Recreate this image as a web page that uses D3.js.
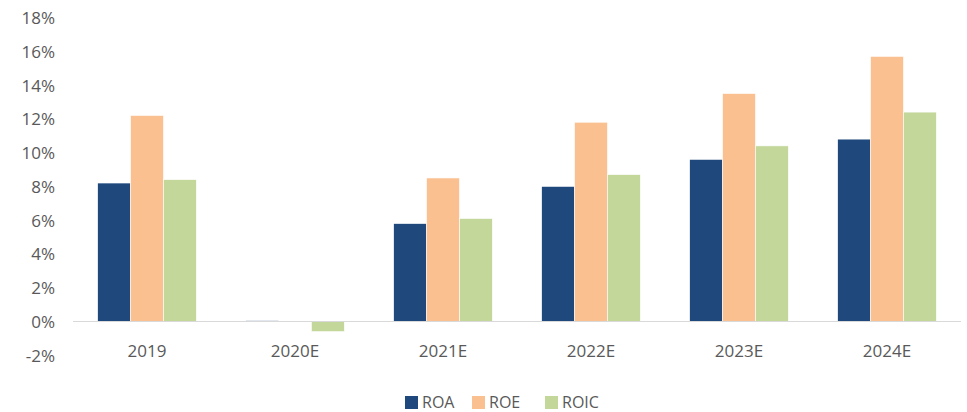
<!DOCTYPE html>
<html>
<head>
<meta charset="utf-8">
<script src="https://cdn.jsdelivr.net/npm/d3@7/dist/d3.min.js"></script>
<style>
  body { margin: 0; background: #fff; }
  svg text { font-family: "Open Sans", "Liberation Sans", sans-serif; fill: #595959; }
</style>
</head>
<body>
<svg id="chart" width="967" height="412"></svg>
<script>
// Return ratios by year (%)
const categories = ["2019", "2020E", "2021E", "2022E", "2023E", "2024E"];
const seriesNames = ["ROA", "ROE", "ROIC"];
const roa  = [8.2, 0.05, 5.8, 8.0, 9.6, 10.8];
const roe  = [12.2, 0.02, 8.5, 11.8, 13.5, 15.7];
const roic = [8.4, -0.6, 6.1, 8.7, 10.4, 12.4];
const colors = ["#1F497D", "#FAC090", "#C4D79B"];
const yTicks = [-2, 0, 2, 4, 6, 8, 10, 12, 14, 16, 18];

const seriesValues = [roa, roe, roic];
const svg = d3.select("#chart");

const plot = { left: 73, right: 961, top: 17.5, bottom: 355.3 };

const x0 = d3.scaleBand().domain(categories).range([plot.left, plot.right]).paddingInner(0).paddingOuter(0);
const x1 = d3.scaleBand().domain(seriesNames).range([0, x0.bandwidth()]).paddingInner(0).paddingOuter(0.75);
const y = d3.scaleLinear().domain([-2, 18]).range([plot.bottom, plot.top]);

// y-axis labels
const yAxis = d3.axisLeft(y).tickValues(yTicks).tickFormat(d => d + "%").tickSize(0).tickPadding(0);
const yg = svg.append("g").attr("transform", "translate(55,0)").call(yAxis);
yg.select(".domain").remove();
yg.selectAll("text").style("font-size", "17px").attr("dy", "0.35em");

// bars
const groups = svg.append("g").selectAll("g")
  .data(categories)
  .join("g")
  .attr("transform", d => `translate(${x0(d)},0)`);

groups.selectAll("rect")
  .data((c, i) => seriesNames.map((s, k) => ({ s, k, v: seriesValues[k][i] })))
  .join("rect")
  .attr("x", d => x1(d.s))
  .attr("width", x1.bandwidth())
  .attr("y", d => y(Math.max(0, d.v)))
  .attr("height", d => Math.abs(y(d.v) - y(0)))
  .attr("fill", d => colors[d.k])
  .attr("stroke", "#fff")
  .attr("stroke-width", 0.6);

// zero line
svg.append("line")
  .attr("x1", plot.left).attr("x2", plot.right)
  .attr("y1", y(0)).attr("y2", y(0))
  .attr("stroke", "#D9D9D9").attr("stroke-width", 1.2);

// x-axis labels
const xAxis = d3.axisBottom(x0).tickSize(0).tickPadding(0);
const xg = svg.append("g").attr("transform", "translate(0,351)").call(xAxis);
xg.select(".domain").remove();
xg.selectAll("text").style("font-size", "17px").attr("dy", "0.35em");

// legend
const legendX = [405, 472, 545];
const legend = svg.append("g").selectAll("g")
  .data(seriesNames)
  .join("g")
  .attr("transform", (d, i) => `translate(${legendX[i]},396)`);
legend.append("rect").attr("width", 13).attr("height", 13).attr("fill", (d, i) => colors[i]);
legend.append("text").attr("x", 17).attr("y", 6.5).attr("dy", "0.35em")
  .style("font-size", "16px").text(d => d);
</script>
</body>
</html>
